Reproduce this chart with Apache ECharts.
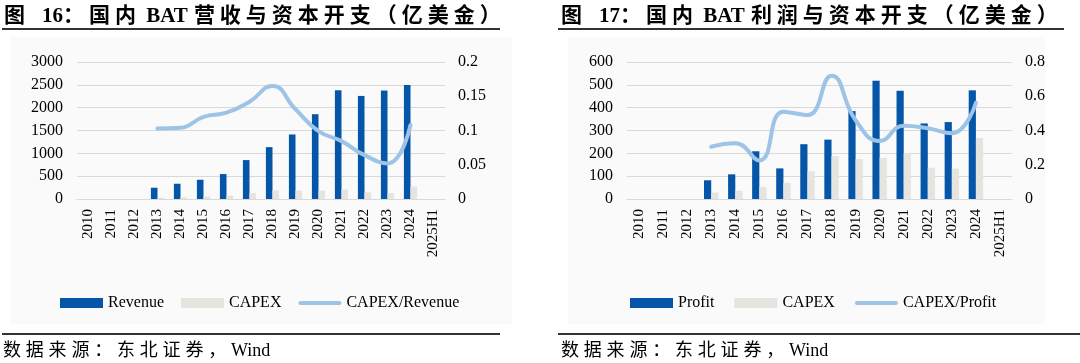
<!DOCTYPE html>
<html>
<head>
<meta charset="utf-8">
<script src="https://cdn.jsdelivr.net/npm/echarts@6/dist/echarts.min.js"></script>
<style>
  html, body { margin:0; padding:0; background:#ffffff; width:1080px; height:363px; overflow:hidden; }
  .abs { position:absolute; }
  .title { font-family:"Liberation Serif","Noto Sans CJK SC",serif; font-weight:bold; font-size:21px; color:#000; white-space:nowrap; line-height:24px; }
  .title .c { letter-spacing:5px; }
  .title .g { margin-right:12px; }
  .title .m { margin-left:6px; }
  .src { font-family:"Liberation Serif","Noto Sans CJK SC",serif; font-size:18px; color:#000; white-space:nowrap; line-height:22px; }
  .src .c { letter-spacing:4.8px; }
  .rule { background:#333; height:2px; }
  .panel { background:#FAFAFA; }
</style>
</head>
<body>
<div class="abs panel" style="left:10px;top:37px;width:502px;height:287px;"></div>
<div class="abs panel" style="left:568px;top:37px;width:477px;height:287px;"></div>
<div id="chartL" class="abs" style="left:0;top:0;width:540px;height:363px;"></div>
<div id="chartR" class="abs" style="left:540px;top:0;width:540px;height:363px;"></div>
<div class="abs title" style="left:4px;top:3px;"><span class="c g">图</span>16<span class="c">：国内</span> BAT<span class="c m">营收与资本开支（亿美金）</span></div>
<div class="abs title" style="left:561px;top:3px;"><span class="c g">图</span>17<span class="c">：国内</span> BAT<span class="c m">利润与资本开支（亿美金）</span></div>
<div class="abs rule" style="left:2px;top:28px;width:498px;"></div>
<div class="abs rule" style="left:558px;top:28px;width:506px;"></div>
<div class="abs rule" style="left:2px;top:333px;width:498px;"></div>
<div class="abs rule" style="left:558px;top:333px;width:522px;"></div>
<div class="abs src" style="left:3px;top:339px;"><span class="c">数据来源：东北证券，</span>Wind</div>
<div class="abs src" style="left:561px;top:339px;"><span class="c">数据来源：东北证券，</span>Wind</div>
<script>
// ---- data ----
const years = ['2010','2011','2012','2013','2014','2015','2016','2017','2018','2019','2020','2021','2022','2023','2024','2025H1'];

const revenue  = [null,null,null,247,334,422,546,852,1136,1413,1857,2381,2257,2375,2497,null];
const capexRev = [null,null,null,27,38,55,72,128,190,183,183,205,148,130,273,null];
const ratioRev = [null,null,null,0.103,0.104,0.120,0.126,0.142,0.165,0.131,0.099,0.0845,0.064,0.052,0.108,null];

const profit     = [null,null,null,82,108,209,134,240,260,385,518,474,331,337,476,null];
const capexProf  = [null,null,null,28,36,53,71,121,188,175,180,201,137,133,267,null];
const ratioProf  = [null,null,null,0.305,0.325,0.225,0.51,0.49,0.72,0.46,0.339,0.428,0.413,0.384,0.562,null];

const leftTicks  = { max: 3000, interval: 500, rmax: 0.2, rinterval: 0.05 };
const rightTicks = { max: 600, interval: 100, rmax: 0.8, rinterval: 0.2 };

// ---- styles ----
const BLUE = '#0556A8', GREY = '#E6E4DF', LINE = '#9DC3E6';
const FONT = 'Liberation Serif';
const LINE_ICON = 'path://M2,0 L41,0 A2,2 0 0 1 41,4 L2,4 A2,2 0 0 1 2,0 Z';

function makeOption(cfg) {
  return {
    animation: false,
    backgroundColor: 'transparent',
    textStyle: { fontFamily: FONT },
    grid: { left: cfg.gridLeft, right: cfg.gridRight, top: 62, height: 137, containLabel: false },
    legend: {
      left: cfg.legendLeft, top: 290, itemWidth: 43, itemHeight: 10, itemGap: cfg.legendGap,
      textStyle: { fontFamily: FONT, fontSize: 16, color: '#000' },
      data: [
        { name: cfg.names[0], icon: 'rect' },
        { name: cfg.names[1], icon: 'rect' },
        { name: cfg.names[2], icon: LINE_ICON }
      ]
    },
    xAxis: {
      type: 'category', data: years,
      axisTick: { show: false },
      axisLine: { lineStyle: { color: '#D9D9D9', width: 1 } },
      axisLabel: { rotate: 90, fontFamily: FONT, fontSize: 15, color: '#000', margin: 10, interval: 0 }
    },
    yAxis: [
      {
        type: 'value', min: 0, max: cfg.ticks.max, interval: cfg.ticks.interval,
        axisLabel: { fontFamily: FONT, fontSize: 16, color: '#000', margin: 14, formatter: v => String(v) },
        splitLine: { lineStyle: { color: '#D9D9D9', width: 1 } },
        axisLine: { show: false }, axisTick: { show: false }
      },
      {
        type: 'value', min: 0, max: cfg.ticks.rmax, interval: cfg.ticks.rinterval,
        axisLabel: { fontFamily: FONT, fontSize: 16, color: '#000', margin: 13, formatter: v => String(v) },
        splitLine: { show: false }, axisLine: { show: false }, axisTick: { show: false }
      }
    ],
    series: [
      { name: cfg.names[0], type: 'bar', data: cfg.bars, barWidth: cfg.barWidth, barGap: '0%', itemStyle: { color: BLUE } },
      { name: cfg.names[1], type: 'bar', data: cfg.capex, barWidth: cfg.barWidth, itemStyle: { color: GREY } },
      { name: cfg.names[2], type: 'line', yAxisIndex: 1, data: cfg.ratio, smooth: 0.5, symbol: 'none', showSymbol: false,
        lineStyle: { color: LINE, width: 4, cap: 'round' }, itemStyle: { color: LINE }, z: 5 }
    ]
  };
}

const chartL = echarts.init(document.getElementById('chartL'), null, { renderer: 'canvas' });
chartL.setOption(makeOption({
  gridLeft: 77, gridRight: 95, legendLeft: 55, legendGap: 17, barWidth: 6.6,
  ticks: leftTicks, names: ['Revenue', 'CAPEX', 'CAPEX/Revenue'],
  bars: revenue, capex: capexRev, ratio: ratioRev
}));

const chartR = echarts.init(document.getElementById('chartR'), null, { renderer: 'canvas' });
chartR.setOption(makeOption({
  gridLeft: 87, gridRight: 68, legendLeft: 85, legendGap: 20, barWidth: 7.2,
  ticks: rightTicks, names: ['Profit', 'CAPEX', 'CAPEX/Profit'],
  bars: profit, capex: capexProf, ratio: ratioProf
}));
</script>
</body>
</html>
